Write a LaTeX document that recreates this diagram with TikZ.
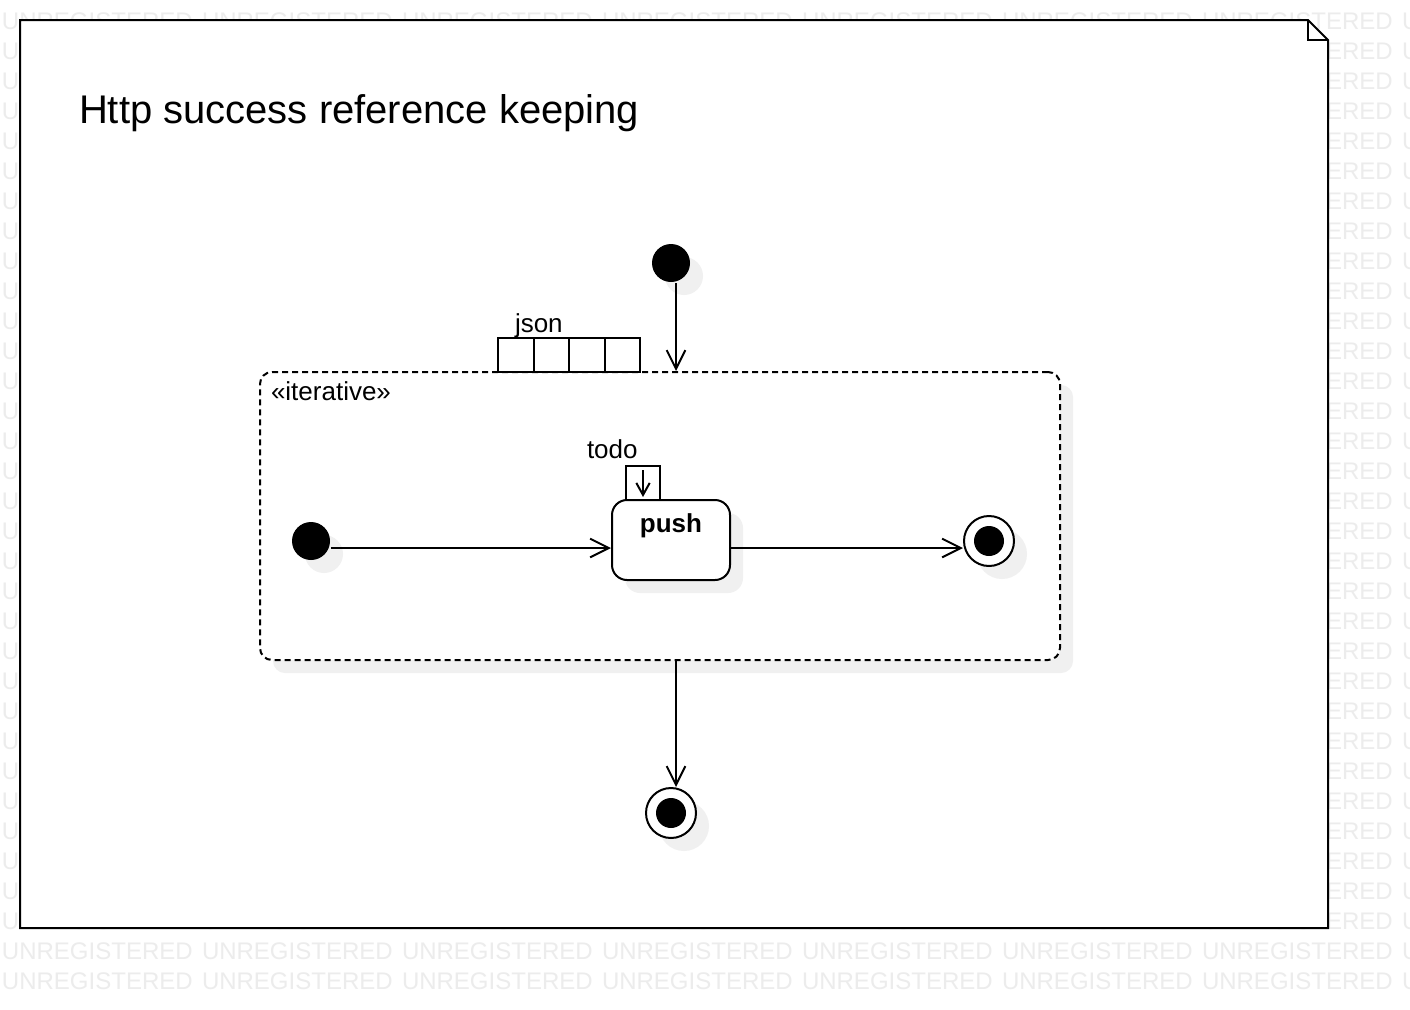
\documentclass[tikz,border=0pt]{standalone}
\usepackage{fontspec}
\setmainfont{Liberation Sans}
\usetikzlibrary{arrows.meta,shadows}
\definecolor{wm}{RGB}{236,236,236}
\definecolor{shd}{RGB}{240,240,240}
\begin{document}
\begin{tikzpicture}[x=0.75pt,y=-0.75pt,line width=1.5pt,
  wmtext/.style={anchor=west,inner sep=0pt,text=wm,font=\fontsize{18}{18}\selectfont},
  arr/.style={-{Straight Barb[length=14pt,width=14pt,line width=1.5pt]}},
  smallarr/.style={-{Straight Barb[length=9pt,width=10pt,line width=1.5pt]}},
  shadowed/.style={drop shadow={shadow xshift=9.75pt,shadow yshift=-9.75pt,fill=shd,opacity=1}},
  initstate/.style={circle,fill=black,inner sep=0pt,minimum size=28.5pt,shadowed},
  finalouter/.style={circle,draw,fill=white,inner sep=0pt,minimum size=37.5pt,shadowed},
  finalinner/.style={circle,fill=black,inner sep=0pt,minimum size=22.5pt},
  regionbox/.style={draw,dashed,dash pattern=on 4.5pt off 3pt,rounded corners=9pt,fill=white,
    inner sep=0pt,minimum width=600pt,minimum height=216pt,shadowed},
  actionbox/.style={draw,rounded corners=11.25pt,fill=white,inner sep=0pt,
    minimum width=88.5pt,minimum height=60pt,shadowed},
  pinbox/.style={draw,fill=white,inner sep=0pt,outer sep=0pt,minimum width=26.625pt,minimum height=25.5pt},
  lbl/.style={anchor=base west,inner sep=0pt,font=\fontsize{19.5}{19.5}\selectfont}]
\useasboundingbox (0,0) rectangle (1410,1010);
\fill[white] (0,0) rectangle (1410,1010);
% watermark
\begin{scope}
\clip (0,0) rectangle (1410,1010);
\foreach \r in {0,...,32}{
  \foreach \c in {0,...,7}{
    \node[wmtext] (wm-\r-\c) at (200*\c+1,21+30*\r) {UNREGISTERED};
  }
}
\end{scope}
% frame
\draw[fill=white] (20,20) -- (1308,20) -- (1328,40) -- (1328,928) -- (20,928) -- cycle;
\draw (1308,20) -- (1308,40) -- (1328,40);
\node[anchor=base west,inner sep=0pt,font=\fontsize{30}{30}\selectfont] (title) at (78,123) {Http success reference keeping};
% outer initial
\node[initstate] (init1) at (671,263) {};
% region
\node[regionbox] (region) at (660,516) {};
\node[lbl] (stereo) at (270,400) {«iterative»};
% json pins
\node[pinbox,anchor=south west] (json1) at (498,372) {};
\node[pinbox,anchor=south west] (json2) at (json1.south east) {};
\node[pinbox,anchor=south west] (json3) at (json2.south east) {};
\node[pinbox,anchor=south west] (json4) at (json3.south east) {};
\node[lbl] (jsonlbl) at (514,332) {json};
% inner
\node[initstate] (init2) at (311,541) {};
\node[actionbox] (push) at (671,540) {};
\node[anchor=base,inner sep=0pt,font=\fontsize{19.5}{19.5}\selectfont\bfseries] (pushlbl) at (671,532) {push};
\node[pinbox,minimum width=25.5pt,anchor=south] (todopin) at (643,500) {};
\draw[smallarr] ([yshift=-3pt]todopin.north) -- ([yshift=2.25pt]todopin.south);
\node[lbl] (todolbl) at (586,458) {todo};
\node[finalouter] (final1) at (989,541) {};
\node[finalinner] (final1in) at (final1.center) {};
% outer final
\node[finalouter] (final2) at (671,813) {};
\node[finalinner] (final2in) at (final2.center) {};
% connectors
\coordinate (vx) at (676,0);
\coordinate (hy) at (0,548);
\draw[arr] (init1.south -| vx) -- (region.north -| vx);
\draw[arr] (region.south -| vx) -- (final2.north -| vx);
\draw[arr] (init2.east |- hy) -- (push.west |- hy);
\draw[arr] (push.east |- hy) -- (final1.west |- hy);
\end{tikzpicture}
\end{document}
